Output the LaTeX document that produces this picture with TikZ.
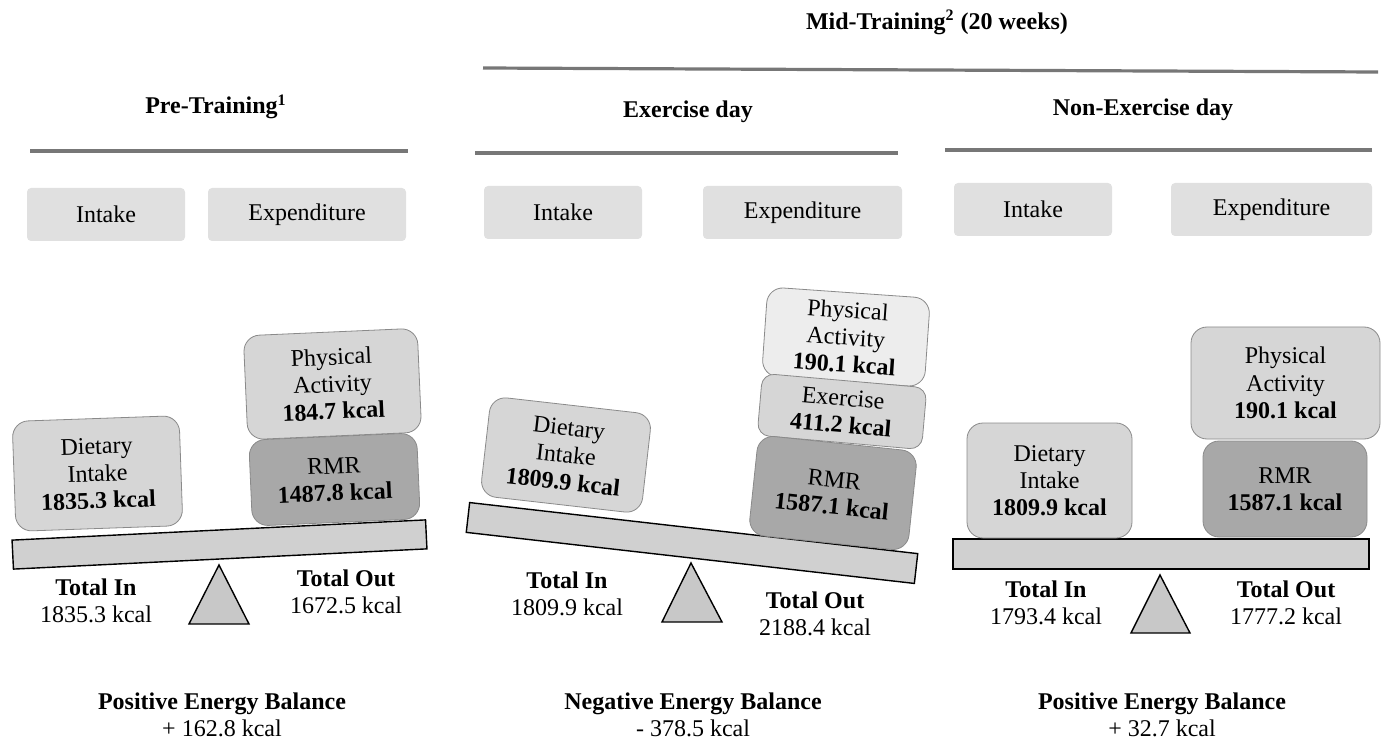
\documentclass[tikz,border=0pt]{standalone}
\usepackage{fontspec}
\setmainfont{Liberation Serif}
\definecolor{headgray}{HTML}{E0E0E0}
\definecolor{rulegray}{HTML}{777777}
\definecolor{edgegray}{HTML}{8A8A8A}
\definecolor{lightw}{HTML}{D6D6D6}
\definecolor{palew}{HTML}{EDEDED}
\definecolor{darkw}{HTML}{A8A8A8}
\definecolor{beamgray}{HTML}{D0D0D0}
\definecolor{fulcgray}{HTML}{C8C8C8}
\tikzset{
  headbox/.style={fill=headgray, rounded corners=2pt, minimum height=26.5pt, inner sep=0pt},
  weight/.style={draw=edgegray, rounded corners=8pt, align=center, inner sep=0pt, font=\fontsize{12}{13.6}\selectfont},
  beam/.style={draw=black, fill=beamgray, line width=0.7pt, inner sep=0pt, minimum height=14.5pt},
  fulcrum/.style={draw=black, fill=fulcgray, line width=0.7pt, line join=miter},
  rulebar/.style={draw=rulegray, line width=1.6pt},
  tally/.style={align=center, font=\fontsize{12}{13.5}\selectfont},
  title/.style={font=\fontsize{12}{14}\selectfont\bfseries}
}
\begin{document}
\begin{tikzpicture}[x=0.5pt, y=-0.5pt, font=\fontsize{12}{13.5}\selectfont]
	\useasboundingbox (0,0) rectangle (1382,743);
	%% headings
	\node[title] (mid) at (937,22) {Mid-Training\textsuperscript{2} (20 weeks)};
	\node[title] (pre) at (216,107) {Pre-Training\textsuperscript{1}};
	\node[title] (exd) at (688,112) {Exercise day};
	\node[title] (nxd) at (1143,110) {Non-Exercise day};
	\draw[rulebar] (483,68)--(1378,72);
	\draw[rulebar] (30,151)--(408,151);
	\draw[rulebar] (475,153)--(898,153);
	\draw[rulebar] (945,150)--(1372,150);
	\node[headbox, minimum width=79pt] (preIn) at (106,214.5) {Intake};
	\node[headbox, minimum width=99pt] (preOut) at (307,214.5) {Expenditure};
	\node[headbox, minimum width=79pt] (exIn) at (563,212.5) {Intake};
	\node[headbox, minimum width=99.5pt] (exOut) at (802.5,212.5) {Expenditure};
	\node[headbox, minimum width=79pt] (nxIn) at (1033,209.5) {Intake};
	\node[headbox, minimum width=100.5pt] (nxOut) at (1271.5,209.5) {Expenditure};
	%% pre-training
	\node[beam, minimum width=207pt, rotate=2.8] (preBeam) at (219.5,544.5) {};
	\draw[fulcrum] (219,565)--(249,624)--(189,624)--cycle;
	\node[weight, fill=lightw, minimum width=83.5pt, minimum height=55pt, rotate=2] (preDiet) at (97.5,473.5) {Dietary\\Intake\\\textbf{1835.3 kcal}};
	\node[weight, fill=lightw, minimum width=87pt, minimum height=52pt, rotate=2.5] (prePA) at (332.5,384) {Physical\\Activity\\\textbf{184.7 kcal}};
	\node[weight, fill=darkw, minimum width=84pt, minimum height=43pt, rotate=2.5] (preRMR) at (334.5,479.5) {RMR\\\textbf{1487.8 kcal}};
	\node[tally] (preTin) at (96,601) {\textbf{Total In}\\1835.3 kcal};
	\node[tally] (preTout) at (346,592) {\textbf{Total Out}\\1672.5 kcal};
	\node[tally] (preBal) at (222,715) {\textbf{Positive Energy Balance}\\+ 162.8 kcal};
	%% exercise day
	\node[beam, minimum width=225.5pt, minimum height=15pt, rotate=-6.5] (exBeam) at (692,543) {};
	\draw[fulcrum] (691,563)--(722,622)--(662,622)--cycle;
	\node[weight, fill=lightw, minimum width=81pt, minimum height=50pt, rotate=-6.5] (exDiet) at (566,455) {Dietary\\Intake\\\textbf{1809.9 kcal}};
	\node[weight, fill=palew, minimum width=81.5pt, minimum height=44.5pt, rotate=-4] (exPA) at (846,337) {Physical\\Activity\\\textbf{190.1 kcal}};
	\node[weight, fill=lightw, minimum width=82.5pt, minimum height=31pt, rotate=-5, rounded corners=6pt] (exEx) at (842,411.5) {Exercise\\\textbf{411.2 kcal}};
	\node[weight, fill=darkw, minimum width=80pt, minimum height=50pt, rotate=-6] (exRMR) at (833,493) {RMR\\\textbf{1587.1 kcal}};
	\node[tally] (exTin) at (567,594) {\textbf{Total In}\\1809.9 kcal};
	\node[tally] (exTout) at (815,614) {\textbf{Total Out}\\2188.4 kcal};
	\node[tally] (exBal) at (693,715) {\textbf{Negative Energy Balance}\\- 378.5 kcal};
	%% non-exercise day
	\node[beam, minimum width=208pt, minimum height=15pt] (nxBeam) at (1161,554) {};
	\draw[fulcrum] (1160,575)--(1190,633)--(1131,633)--cycle;
	\node[weight, fill=lightw, minimum width=82.5pt, minimum height=57.5pt] (nxDiet) at (1049.5,480.5) {Dietary\\Intake\\\textbf{1809.9 kcal}};
	\node[weight, fill=lightw, minimum width=94.5pt, minimum height=56pt] (nxPA) at (1285.5,383) {Physical\\Activity\\\textbf{190.1 kcal}};
	\node[weight, fill=darkw, minimum width=82pt, minimum height=48pt] (nxRMR) at (1285,489) {RMR\\\textbf{1587.1 kcal}};
	\node[tally] (nxTin) at (1046,603) {\textbf{Total In}\\1793.4 kcal};
	\node[tally] (nxTout) at (1286,603) {\textbf{Total Out}\\1777.2 kcal};
	\node[tally] (nxBal) at (1162,715) {\textbf{Positive Energy Balance}\\+ 32.7 kcal};
\end{tikzpicture}
\end{document}
